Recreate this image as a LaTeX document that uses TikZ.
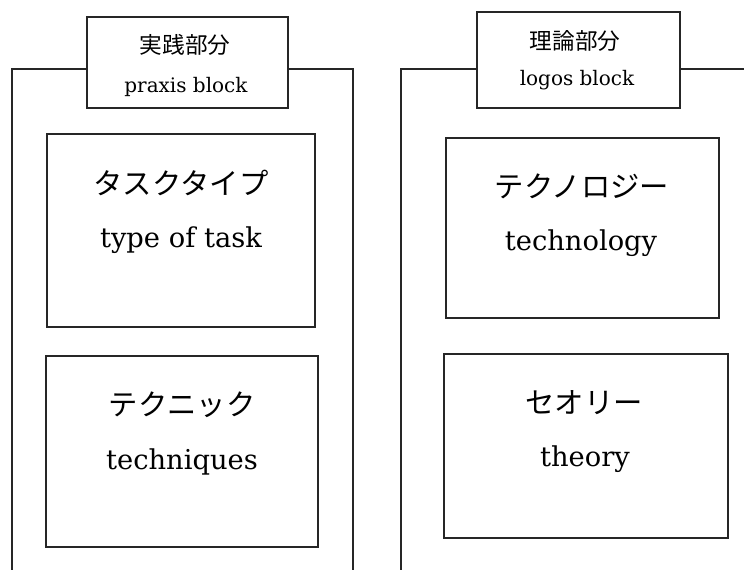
\documentclass[tikz,border=0pt]{standalone}
\usepackage{fontspec}
\setmainfont{DejaVu Serif}
\newfontfamily\jp{Noto Sans CJK JP}
\begin{document}
\begin{tikzpicture}[x=0.75pt,y=-0.75pt,line width=0.8pt,
  frame/.style={draw=black!85,inner sep=0pt,outer sep=0pt,anchor=north west},
  outline/.style={draw=black!85},
  lbljp/.style={font=\jp\fontsize{17}{20}\selectfont,inner sep=0pt},
  lblen/.style={font=\fontsize{15}{18}\selectfont,inner sep=0pt,anchor=base},
  injp/.style={font=\jp\fontsize{22}{26}\selectfont,inner sep=0pt},
  inen/.style={font=\fontsize{20.5}{24}\selectfont,inner sep=0pt,anchor=base}]
\useasboundingbox (0,0) rectangle (744,570);
\clip (0,0) rectangle (744,570);
% label boxes
\node[frame,minimum width=150.75pt,minimum height=68.25pt] (lblL) at (87,17) {};
\node[frame,minimum width=152.25pt,minimum height=72pt] (lblR) at (477,12) {};
% outer frames
\coordinate (oLtl) at (12,69);
\coordinate (oLbl) at (12,580);
\coordinate (oLtr) at (353,69);
\coordinate (oLbr) at (353,580);
\coordinate (oRtl) at (401,69);
\coordinate (oRbl) at (401,580);
\coordinate (oRtr) at (750,69);
\draw[outline] (lblL.west |- oLtl) -- (oLtl) -- (oLbl);
\draw[outline] (lblL.east |- oLtr) -- (oLtr) -- (oLbr);
\draw[outline] (lblR.west |- oRtl) -- (oRtl) -- (oRbl);
\draw[outline] (lblR.east |- oRtr) -- (oRtr);
% inner boxes
\node[frame,minimum width=201pt,minimum height=144.75pt] (task) at (47,134) {};
\node[frame,minimum width=204pt,minimum height=143.25pt] (tech) at (46,356) {};
\node[frame,minimum width=204.75pt,minimum height=135pt] (techno) at (446,138) {};
\node[frame,minimum width=213pt,minimum height=138pt] (theory) at (444,354) {};
% label texts
\node[lbljp] (lblLjp) at (185,45) {実践部分};
\node[lblen] (lblLen) at (186,93) {praxis block};
\node[lbljp] (lblRjp) at (575,41) {理論部分};
\node[lblen] (lblRen) at (577,86) {logos block};
% inner texts
\node[injp] (taskjp) at (181,183) {タスクタイプ};
\node[inen] (tasken) at (181,248) {type of task};
\node[injp] (techjp) at (182,405) {テクニック};
\node[inen] (techen) at (182,470) {techniques};
\node[injp] (technojp) at (582,186) {テクノロジー};
\node[inen] (technoen) at (581,251) {technology};
\node[injp] (theoryjp) at (584,403) {セオリー};
\node[inen] (theoryen) at (585,467) {theory};
\end{tikzpicture}
\end{document}
